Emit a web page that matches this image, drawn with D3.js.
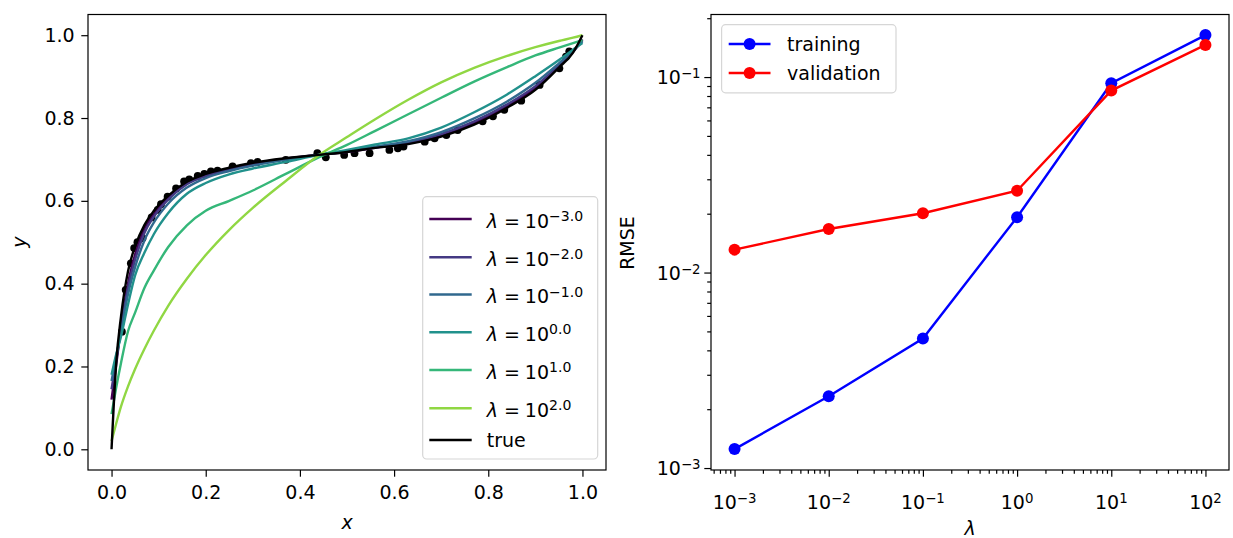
<!DOCTYPE html>
<html>
<head>
<meta charset="utf-8">
<script src="https://cdn.jsdelivr.net/npm/d3@7"></script>
<style>
  html, body { margin: 0; padding: 0; background: #fff; }
  svg { display: block; font-family: "DejaVu Sans", sans-serif; }
</style>
</head>
<body>
<div id="chart"></div>
<script>
// values

// left panel: fitted curves sampled on a shared x grid
const fitX = [0, 0.01, 0.02, 0.035, 0.05, 0.07, 0.09, 0.12, 0.16, 0.2, 0.25, 0.3, 0.37, 0.44, 0.5, 0.56, 0.63, 0.7, 0.77, 0.84, 0.9, 0.95, 0.98, 1.0];
const lambdaExps = [-3, -2, -1, 0, 1, 2];
const fitLamM3 = [0.12, 0.205, 0.295, 0.40, 0.47, 0.533, 0.568, 0.607, 0.643, 0.663, 0.678, 0.69, 0.702, 0.711, 0.718, 0.728, 0.739, 0.758, 0.788, 0.829, 0.873, 0.925, 0.96, 0.99];
const fitLamM2 = [0.145, 0.215, 0.29, 0.39, 0.458, 0.523, 0.562, 0.603, 0.64, 0.66, 0.676, 0.689, 0.701, 0.711, 0.719, 0.729, 0.741, 0.761, 0.792, 0.833, 0.877, 0.927, 0.96, 0.988];
const fitLamM1 = [0.165, 0.225, 0.285, 0.375, 0.44, 0.505, 0.548, 0.593, 0.632, 0.655, 0.672, 0.685, 0.699, 0.711, 0.72, 0.731, 0.744, 0.766, 0.799, 0.84, 0.885, 0.932, 0.962, 0.985];
const fitLam0 = [0.18, 0.23, 0.272, 0.35, 0.42, 0.475, 0.52, 0.57, 0.617, 0.643, 0.664, 0.678, 0.694, 0.711, 0.723, 0.736, 0.751, 0.777, 0.814, 0.857, 0.901, 0.94, 0.965, 0.981];
const fitLam1 = [0.085, 0.15, 0.208, 0.285, 0.33, 0.39, 0.432, 0.488, 0.541, 0.576, 0.6, 0.625, 0.665, 0.705, 0.735, 0.769, 0.809, 0.849, 0.888, 0.923, 0.951, 0.97, 0.981, 0.988];
const fitLam2 = [0.02, 0.063, 0.103, 0.152, 0.194, 0.243, 0.287, 0.346, 0.412, 0.469, 0.53, 0.583, 0.648, 0.71, 0.754, 0.797, 0.844, 0.886, 0.921, 0.95, 0.971, 0.986, 0.994, 1.0];
const trueY = [0, 0.21, 0.32, 0.43, 0.49, 0.542, 0.576, 0.612, 0.646, 0.665, 0.68, 0.692, 0.703, 0.711, 0.718, 0.728, 0.737, 0.755, 0.784, 0.825, 0.868, 0.922, 0.958, 1.0];

// noisy samples (black dots)
const sampleX = [0.022, 0.030, 0.041, 0.048, 0.055, 0.066, 0.085, 0.098, 0.105, 0.119, 0.137, 0.154, 0.165, 0.183, 0.197, 0.211, 0.225, 0.257, 0.296, 0.31, 0.37, 0.437, 0.455, 0.494, 0.516, 0.548, 0.59, 0.608, 0.62, 0.665, 0.686, 0.711, 0.735, 0.788, 0.81, 0.834, 0.87, 0.909, 0.951, 0.965, 0.972];
const sampleY = [0.284, 0.385, 0.449, 0.486, 0.50, 0.510, 0.56, 0.578, 0.592, 0.610, 0.630, 0.647, 0.652, 0.660, 0.665, 0.671, 0.673, 0.683, 0.691, 0.694, 0.699, 0.715, 0.705, 0.711, 0.715, 0.715, 0.723, 0.727, 0.731, 0.743, 0.751, 0.759, 0.771, 0.792, 0.804, 0.820, 0.842, 0.880, 0.920, 0.948, 0.961];

// right panel: error vs regularisation
const lambdas = [1e-3, 1e-2, 1e-1, 1e0, 1e1, 1e2];
const rmseTrain = [0.00125, 0.00233, 0.0046, 0.0192, 0.093, 0.164];
const rmseValid = [0.0131, 0.0167, 0.0201, 0.0262, 0.0853, 0.146];

const leftYTicks = [0, 0.2, 0.4, 0.6, 0.8, 1.0];
const leftXTicks = [0, 0.2, 0.4, 0.6, 0.8, 1.0];
const rightXExps = [-3, -2, -1, 0, 1, 2];
const rightYExps = [-3, -2, -1];

const width = 1233, height = 538;
const fontPx = 19;
const tickLen = 6.7, minorLen = 3.8, tickPad = 6.7;
const lineW = 2.4;

const svg = d3.select('#chart').append('svg')
  .attr('width', width).attr('height', height)
  .attr('viewBox', [0, 0, width, height]);

const axTop = 14.5, axBottom = 470;

// ---------- left panel ----------
const xL = d3.scaleLinear().domain([-0.05, 1.05]).range([88, 606]);
const yL = d3.scaleLinear().domain([-0.05, 1.05]).range([axBottom, axTop]);

const gL = svg.append('g');

gL.append('g')
  .selectAll('circle')
  .data(sampleX.map((x, i) => [x, sampleY[i]]))
  .join('circle')
  .attr('cx', d => xL(d[0]))
  .attr('cy', d => yL(d[1]))
  .attr('r', 3.9)
  .attr('fill', '#000');

const fits = [fitLamM3, fitLamM2, fitLamM1, fitLam0, fitLam1, fitLam2];
const color = i => d3.interpolateViridis(i / 6);
const lineL = d3.line()
  .x(d => xL(d[0]))
  .y(d => yL(d[1]))
  .curve(d3.curveMonotoneX);

fits.forEach((ys, i) => {
  gL.append('path')
    .datum(fitX.map((x, j) => [x, ys[j]]))
    .attr('d', lineL)
    .attr('fill', 'none')
    .attr('stroke', color(i))
    .attr('stroke-width', lineW);
});

gL.append('path')
  .datum(fitX.map((x, j) => [x, trueY[j]]))
  .attr('d', lineL)
  .attr('fill', 'none')
  .attr('stroke', '#000')
  .attr('stroke-width', lineW);

const styleAxis = g => {
  g.selectAll('.domain').remove();
  g.selectAll('line').attr('stroke', '#000').attr('stroke-width', 1.2);
  g.selectAll('text').attr('font-size', fontPx).attr('font-family', 'DejaVu Sans').attr('fill', '#000');
};

gL.append('g')
  .attr('transform', `translate(0,${axBottom})`)
  .call(d3.axisBottom(xL).tickValues(leftXTicks).tickFormat(d3.format('.1f')).tickSize(tickLen).tickPadding(tickPad + 2))
  .call(styleAxis);

gL.append('g')
  .attr('transform', `translate(88,0)`)
  .call(d3.axisLeft(yL).tickValues(leftYTicks).tickFormat(d3.format('.1f')).tickSize(tickLen).tickPadding(tickPad))
  .call(styleAxis);

gL.append('rect')
  .attr('x', 88).attr('y', axTop)
  .attr('width', 606 - 88).attr('height', axBottom - axTop)
  .attr('fill', 'none').attr('stroke', '#000').attr('stroke-width', 1.2);

gL.append('text')
  .attr('x', (88 + 606) / 2).attr('y', 529)
  .attr('text-anchor', 'middle')
  .attr('font-size', fontPx).attr('font-style', 'italic')
  .text('x');

gL.append('text')
  .attr('transform', 'translate(26,242) rotate(-90)')
  .attr('text-anchor', 'middle')
  .attr('font-size', fontPx).attr('font-style', 'italic')
  .text('y');

// superscript helper for mathtext-like labels
const addPow = (sel, base, expText, dx = 0, supSize = '0.7em') => {
  sel.append('tspan').attr('dx', dx).text(base);
  sel.append('tspan').attr('dy', '-0.45em').attr('font-size', supSize).text(expText);
};
const fmtExp = (e, dec) => {
  const s = dec ? Math.abs(e).toFixed(1) : String(Math.abs(e));
  return (e < 0 ? '\u2212' : '') + s;
};

// left legend
const legL = gL.append('g');
legL.append('rect')
  .attr('x', 422.7).attr('y', 196.7)
  .attr('width', 597.7 - 422.7).attr('height', 459 - 196.7)
  .attr('rx', 4)
  .attr('fill', '#fff').attr('fill-opacity', 0.8)
  .attr('stroke', '#d6d6d6').attr('stroke-width', 1.2);

const legRowsL = [219, 257.3, 294.5, 332.3, 370, 408.3];
lambdaExps.forEach((e, i) => {
  const y = legRowsL[i];
  legL.append('line')
    .attr('x1', 429.3).attr('x2', 471.7).attr('y1', y).attr('y2', y)
    .attr('stroke', color(i)).attr('stroke-width', lineW);
  const t = legL.append('text')
    .attr('x', 486.7).attr('y', y + 8.5)
    .attr('font-size', fontPx);
  t.append('tspan').attr('font-style', 'italic').text('\u03bb');
  t.append('tspan').attr('dx', 6).text('=');
  addPow(t, '10', fmtExp(e, true), 5, '0.74em');
});
legL.append('line')
  .attr('x1', 429.3).attr('x2', 471.7).attr('y1', 440).attr('y2', 440)
  .attr('stroke', '#000').attr('stroke-width', lineW);
legL.append('text')
  .attr('x', 486.7).attr('y', 446.5)
  .attr('font-size', fontPx)
  .text('true');

// ---------- right panel ----------
const xR = d3.scaleLog().domain([Math.pow(10, -3.25), Math.pow(10, 2.25)]).range([711, 1229]);
const yR = d3.scaleLog().domain([Math.pow(10, -3.01), Math.pow(10, -0.68)]).range([axBottom, axTop]);

const gR = svg.append('g');

const minorVals = (lo, hi) => {
  const out = [];
  for (let e = Math.floor(Math.log10(lo)); e <= Math.ceil(Math.log10(hi)); e++) {
    for (let m = 2; m <= 9; m++) {
      const v = m * Math.pow(10, e);
      if (v > lo && v < hi) out.push(v);
    }
  }
  return out;
};

gR.append('g')
  .attr('transform', `translate(0,${axBottom})`)
  .call(d3.axisBottom(xR).tickValues(minorVals(...xR.domain())).tickFormat('').tickSize(minorLen))
  .call(styleAxis);
gR.append('g')
  .attr('transform', `translate(0,${axBottom})`)
  .call(d3.axisBottom(xR).tickValues(rightXExps.map(e => Math.pow(10, e))).tickFormat('').tickSize(tickLen))
  .call(styleAxis);
gR.append('g')
  .attr('transform', 'translate(711,0)')
  .call(d3.axisLeft(yR).tickValues(minorVals(...yR.domain())).tickFormat('').tickSize(minorLen))
  .call(styleAxis);
gR.append('g')
  .attr('transform', 'translate(711,0)')
  .call(d3.axisLeft(yR).tickValues(rightYExps.map(e => Math.pow(10, e))).tickFormat('').tickSize(tickLen))
  .call(styleAxis);

rightXExps.forEach(e => {
  const t = gR.append('text')
    .attr('x', xR(Math.pow(10, e))).attr('y', 508.5)
    .attr('text-anchor', 'middle')
    .attr('font-size', fontPx);
  addPow(t, '10', fmtExp(e, false));
});
rightYExps.forEach(e => {
  const t = gR.append('text')
    .attr('x', 711 - tickLen - tickPad - 19).attr('y', yR(Math.pow(10, e)) + 7)
    .attr('text-anchor', 'middle')
    .attr('font-size', fontPx);
  addPow(t, '10', fmtExp(e, false));
});

const lineR = d3.line()
  .x(d => xR(d[0]))
  .y(d => yR(d[1]));

const seriesR = [
  { name: 'training', values: rmseTrain, color: '#0000ff' },
  { name: 'validation', values: rmseValid, color: '#ff0000' }
];

seriesR.forEach(s => {
  const pts = lambdas.map((l, i) => [l, s.values[i]]);
  gR.append('path')
    .datum(pts)
    .attr('d', lineR)
    .attr('fill', 'none')
    .attr('stroke', s.color)
    .attr('stroke-width', lineW);
  gR.append('g')
    .selectAll('circle')
    .data(pts)
    .join('circle')
    .attr('cx', d => xR(d[0]))
    .attr('cy', d => yR(d[1]))
    .attr('r', 6)
    .attr('fill', s.color);
});

gR.append('rect')
  .attr('x', 711).attr('y', axTop)
  .attr('width', 1229 - 711).attr('height', axBottom - axTop)
  .attr('fill', 'none').attr('stroke', '#000').attr('stroke-width', 1.2);

gR.append('text')
  .attr('x', (711 + 1229) / 2).attr('y', 535)
  .attr('text-anchor', 'middle')
  .attr('font-size', fontPx).attr('font-style', 'italic')
  .text('\u03bb');

gR.append('text')
  .attr('transform', 'translate(634,243) rotate(-90)')
  .attr('text-anchor', 'middle')
  .attr('font-size', fontPx)
  .text('RMSE');

// right legend
const legR = gR.append('g');
legR.append('rect')
  .attr('x', 721.6).attr('y', 24.7)
  .attr('width', 896 - 721.6).attr('height', 92.8 - 24.7)
  .attr('rx', 4)
  .attr('fill', '#fff').attr('fill-opacity', 0.8)
  .attr('stroke', '#d6d6d6').attr('stroke-width', 1.2);

seriesR.forEach((s, i) => {
  const y = [44, 73][i];
  legR.append('line')
    .attr('x1', 728.7).attr('x2', 770.5).attr('y1', y).attr('y2', y)
    .attr('stroke', s.color).attr('stroke-width', lineW);
  legR.append('circle')
    .attr('cx', 749.6).attr('cy', y).attr('r', 6)
    .attr('fill', s.color);
  legR.append('text')
    .attr('x', 787).attr('y', y + 7)
    .attr('font-size', fontPx)
    .text(s.name);
});
</script>
</body>
</html>
